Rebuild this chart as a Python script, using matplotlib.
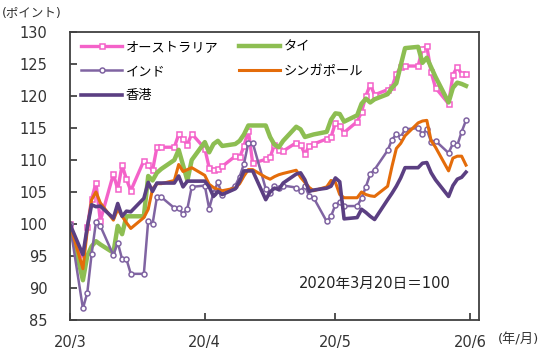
import numpy as np
import pandas as pd
import matplotlib
matplotlib.use('Agg')
import matplotlib.pyplot as plt

plt.rcParams['font.family'] = ['DejaVu Sans', 'Noto Sans CJK JP']

# business days, 2020/3/20 - 2020/6/19 (66 points)
dates = pd.bdate_range('2020-03-20', '2020-06-19')

# index values (2020/3/20 = 100)
aus = [100, 94.5, 99.5, 103.9, 106.4, 100.5,
       107.8, 105.4, 109.2, 107.0, 105.2,
       109.9, 109.2, 108.4, 112.0, 112.0,
       112.0, 114.0, 113.3, 112.4, 114.1,
       111.8, 108.8, 108.5, 108.6, 109.0,
       110.6, 110.4, 112.2, 114.6, 109.5,
       110.1, 110.4, 112.4, 111.5, 111.4,
       112.7, 112.4, 110.9, 112.2, 112.5,
       113.3, 113.6, 115.8, 115.3, 114.3,
       116.0, 117.5, 120.0, 121.8, 120.2,
       121.0, 121.4, 123.4, 124.6, 124.7,
       124.7, 127.4, 127.8, 123.7, 121.3,
       118.8, 123.3, 124.6, 123.4, 123.4]

thai = [100, 91.2, 95.0, 96.5, 97.3, 96.8,
        95.5, 99.7, 98.4, 101.2, 101.2,
        101.2, 107.5, 106.8, 108.0, 108.6,
        110.0, 111.6, 109.2, 106.8, 110.0,
        112.8, 111.2, 112.5, 113.0, 112.2,
        112.5, 113.0, 114.0, 115.4, 115.4,
        115.4, 113.6, 112.4, 112.0, 113.0,
        115.2, 114.8, 113.6, 113.8, 114.0,
        114.4, 116.3, 117.3, 117.2, 116.0,
        117.0, 118.8, 119.6, 119.0, 119.5,
        120.3, 121.3, 122.0, 124.8, 127.5,
        127.7, 125.2, 126.0, 124.5, 123.0,
        119.0, 121.3, 122.1, 121.9, 121.6]

india = [100, 86.8, 89.2, 95.3, 100.3, 99.7,
         95.1, 97.1, 94.5, 94.5, 92.2,
         92.2, 100.5, 100.0, 104.2, 104.2,
         102.5, 102.5, 101.5, 102.4, 105.8,
         106.0, 102.4, 104.9, 106.5, 104.5,
         106.0, 107.4, 109.4, 112.7, 112.7,
         105.5, 104.8, 106.0, 105.6, 106.0,
         105.7, 105.1, 106.0, 104.3, 104.1,
         100.4, 101.2, 103.0, 103.4, 102.8,
         102.8, 104.0, 105.8, 107.8, 108.5,
         111.5, 113.2, 114.0, 113.6, 114.8,
         115.0, 114.0, 114.8, 112.8, 113.0,
         111.1, 112.6, 112.3, 114.4, 116.2]

sing = [100, 93.0, 99.0, 103.8, 105.0, 103.3,
        100.6, 102.3, 101.2, 100.2, 99.3,
        101.0, 102.3, 105.5, 106.3, 106.3,
        106.8, 109.3, 108.2, 108.5, 108.8,
        107.6, 106.2, 105.7, 105.4, 105.2,
        105.6, 106.3, 107.5, 108.5, 108.5,
        107.3, 107.0, 107.4, 107.7, 107.9,
        108.4, 107.3, 106.5, 105.7, 105.2,
        105.8, 106.8, 106.5, 104.6, 104.1,
        104.1, 105.0, 104.6, 104.4, 104.3,
        105.9, 109.0, 111.8, 112.6, 113.8,
        115.8, 116.1, 116.2, 113.0, 112.0,
        108.3, 110.3, 110.6, 110.6, 109.2]

hk = [100, 95.2, 99.5, 103.0, 102.7, 102.8,
      100.9, 103.2, 101.2, 102.0, 101.9,
      104.0, 106.5, 105.1, 106.4, 106.4,
      106.4, 107.5, 105.8, 106.7, 106.7,
      106.7, 105.8, 104.3, 105.1, 104.6,
      105.5, 106.7, 108.3, 108.3, 108.3,
      103.8, 105.0, 105.6, 105.4, 106.4,
      107.8, 108.0, 106.9, 105.1, 105.3,
      105.6, 105.9, 107.2, 106.6, 100.8,
      101.0, 102.3, 101.8, 101.2, 100.7,
      103.8, 104.8, 105.9, 107.2, 108.8,
      108.8, 109.5, 109.6, 108.0, 106.9,
      104.3, 106.0, 107.0, 107.3, 108.1]

tick_dates = pd.to_datetime(['2020-03-20', '2020-04-20', '2020-05-20', '2020-06-20'])
tick_labels = ['20/3', '20/4', '20/5', '20/6']

c_aus = '#F462C9'
c_thai = '#8DBE52'
c_india = '#8064A2'
c_sing = '#E46C0A'
c_hk = '#5B3F82'

fig = plt.figure(figsize=(5.5, 3.57), dpi=100)
ax = fig.add_axes([0.127, 0.104, 0.744, 0.806])

l_aus, = ax.plot(dates, aus, color=c_aus, lw=2.4, marker='s', ms=3.6,
                 mfc='white', mec=c_aus, mew=1.1, label='オーストラリア')
l_thai, = ax.plot(dates, thai, color=c_thai, lw=3.2, label='タイ')
l_india, = ax.plot(dates, india, color=c_india, lw=1.8, marker='o', ms=3.6,
                   mfc='white', mec=c_india, mew=1.1, label='インド')
l_sing, = ax.plot(dates, sing, color=c_sing, lw=2.2, label='シンガポール')
l_hk, = ax.plot(dates, hk, color=c_hk, lw=2.6, label='香港')

ax.set_xlim(pd.Timestamp('2020-03-20'), pd.Timestamp('2020-06-22'))
ax.set_ylim(85, 130)
ax.set_yticks(np.arange(85, 131, 5))
ax.set_xticks(tick_dates)
ax.set_xticklabels(tick_labels)

ax.tick_params(axis='both', direction='in', length=5, width=1.2,
               colors='#333333', labelsize=10.5, labelcolor='#333333')
ax.tick_params(axis='y', pad=16)
ax.tick_params(axis='x', pad=11)
for s in ax.spines.values():
    s.set_color('#404040')
    s.set_linewidth(1.3)

ax.legend([l_aus, l_india, l_hk, l_thai, l_sing],
          ['オーストラリア', 'インド', '香港', 'タイ', 'シンガポール'],
          ncol=2, loc='upper left', bbox_to_anchor=(0.028, 0.97),
          frameon=False, fontsize=9.5, handlelength=3.1, handletextpad=0.25,
          labelspacing=0.85, columnspacing=1.6, borderaxespad=0, borderpad=0)

ax.text(0.746, 0.128, '2020年3月20日＝100', transform=ax.transAxes,
        ha='center', va='center', fontsize=10.5, color='#222222')

fig.text(0.004, 1 - 13 / 357, '(ポイント)', ha='left', va='center',
         fontsize=9, color='#333333')
fig.text(0.905, 1 - 340 / 357, '(年/月)', ha='left', va='center',
         fontsize=9.5, color='#333333')

fig.savefig('out.png', dpi=100)
